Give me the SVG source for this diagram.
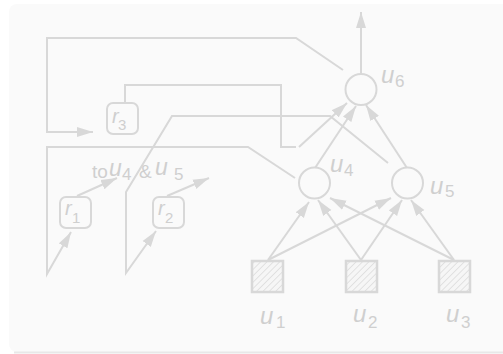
<svg xmlns="http://www.w3.org/2000/svg" width="503" height="354" viewBox="0 0 503 354">
  <style>
    .wire { fill: none; stroke: #d8d8d8; stroke-width: 2; stroke-linejoin: miter; }
    .arrow { marker-end: url(#head); }
    .unit { fill: #fafafa; stroke: #d8d8d8; stroke-width: 2; }
    .input { fill: url(#hatch); stroke: #d8d8d8; stroke-width: 2.5; }
    .reg { fill: #fafafa; stroke: #d8d8d8; stroke-width: 2; }
    .var { font-family: "Liberation Sans", Arial, sans-serif; font-style: italic; fill: #cfcfcf; }
    .sub { font-family: "Liberation Sans", Arial, sans-serif; fill: #cfcfcf; }
    .txt { font-family: "Liberation Sans", Arial, sans-serif; fill: #cfcfcf; }
  </style>
  <defs>
    <marker id="head" markerUnits="userSpaceOnUse" markerWidth="18" markerHeight="12" refX="16" refY="5.5" orient="auto">
      <path d="M0,0.5 L16,5.5 L0,10.5 z" fill="#d8d8d8"/>
    </marker>
    <pattern id="hatch" patternUnits="userSpaceOnUse" width="4.5" height="4.5" patternTransform="rotate(45)">
      <rect width="4.5" height="4.5" fill="#f6f6f6"/>
      <line x1="0" y1="0" x2="0" y2="4.5" stroke="#dcdcdc" stroke-width="1.6"/>
    </pattern>
  </defs>

  <!-- page -->
  <rect x="0" y="0" width="503" height="354" fill="#ffffff"/>
  <rect x="9" y="4" width="510" height="348" rx="8" fill="#fafafa"/>
  <line x1="14" y1="352.5" x2="503" y2="352.5" stroke="#e8e8e8" stroke-width="2"/>

  <!-- connectors -->
  <g id="connectors">
    <!-- output of u6 -->
    <line class="wire arrow" x1="361" y1="74" x2="361" y2="12"/>
    <!-- hidden layer to u6 -->
    <line class="wire arrow" x1="315" y1="168" x2="356" y2="106"/>
    <line class="wire arrow" x1="407" y1="168" x2="366" y2="105"/>
    <!-- r3 to u6 -->
    <polyline class="wire" points="125,103 125,85 281,85 281,147 296,147"/>
    <line class="wire arrow" x1="299" y1="147" x2="347" y2="103"/>
    <!-- inputs to hidden layer -->
    <line class="wire arrow" x1="268" y1="260" x2="309" y2="202"/>
    <line class="wire arrow" x1="268" y1="260" x2="391" y2="198"/>
    <line class="wire arrow" x1="361" y1="260" x2="318" y2="200"/>
    <line class="wire arrow" x1="361" y1="260" x2="402" y2="200"/>
    <line class="wire arrow" x1="454" y1="260" x2="330" y2="198"/>
    <line class="wire arrow" x1="454" y1="260" x2="411" y2="200"/>
    <!-- feedback loops -->
    <path class="wire arrow" d="M343,70 L296,38 L47,38 L47,132 L93,132"/>
    <path class="wire arrow" d="M295,178 L248,147 L47,147 L47,274 L71,232"/>
    <path class="wire arrow" d="M388,163 L330,116 L172,116 L126,192 L126,273 L156,231"/>
    <!-- recurrent units out -->
    <line class="wire arrow" x1="77" y1="196" x2="117" y2="178"/>
    <line class="wire arrow" x1="167" y1="196" x2="209" y2="178"/>
  </g>

  <!-- output unit -->
  <g id="u6">
    <circle class="unit" cx="361" cy="89.5" r="15.5"/>
    <text class="var" x="381" y="83" font-size="24">u</text>
    <text class="sub" x="395" y="87" font-size="17">6</text>
  </g>

  <!-- hidden units -->
  <g id="u4">
    <circle class="unit" cx="314.5" cy="183" r="15.5"/>
    <text class="var" x="330" y="172" font-size="24">u</text>
    <text class="sub" x="344" y="176" font-size="17">4</text>
  </g>
  <g id="u5">
    <circle class="unit" cx="407.5" cy="183" r="15.5"/>
    <text class="var" x="430" y="194" font-size="24">u</text>
    <text class="sub" x="445" y="197" font-size="17">5</text>
  </g>

  <!-- input units -->
  <g id="u1">
    <rect class="input" x="252" y="261" width="31" height="31"/>
    <text class="var" x="260" y="324" font-size="24">u</text>
    <text class="sub" x="276" y="328" font-size="17">1</text>
  </g>
  <g id="u2">
    <rect class="input" x="346" y="261" width="31" height="31"/>
    <text class="var" x="353" y="322" font-size="24">u</text>
    <text class="sub" x="368" y="328" font-size="17">2</text>
  </g>
  <g id="u3">
    <rect class="input" x="439" y="261" width="31" height="31"/>
    <text class="var" x="446" y="322" font-size="24">u</text>
    <text class="sub" x="461" y="328" font-size="17">3</text>
  </g>

  <!-- recurrent units -->
  <g id="r3">
    <rect class="reg" x="107" y="103" width="31" height="31" rx="6"/>
    <text class="var" x="112" y="123" font-size="20">r</text>
    <text class="sub" x="118" y="130" font-size="15">3</text>
  </g>
  <g id="r1">
    <rect class="reg" x="60" y="197" width="31" height="31" rx="6"/>
    <text class="var" x="65" y="215" font-size="20">r</text>
    <text class="sub" x="72" y="223" font-size="15">1</text>
  </g>
  <g id="r2">
    <rect class="reg" x="153" y="197" width="31" height="31" rx="6"/>
    <text class="var" x="158" y="215" font-size="20">r</text>
    <text class="sub" x="165" y="223" font-size="15">2</text>
  </g>

  <!-- label for r1 / r2 outputs -->
  <g id="label-to">
    <text class="txt" x="92" y="178" font-size="19">to</text>
    <text class="var" x="109" y="176" font-size="23">u</text>
    <text class="sub" x="122" y="180" font-size="17">4</text>
    <text class="txt" x="139" y="178" font-size="19">&amp;</text>
    <text class="var" x="155" y="175" font-size="23">u</text>
    <text class="sub" x="174" y="180" font-size="17">5</text>
  </g>
</svg>
